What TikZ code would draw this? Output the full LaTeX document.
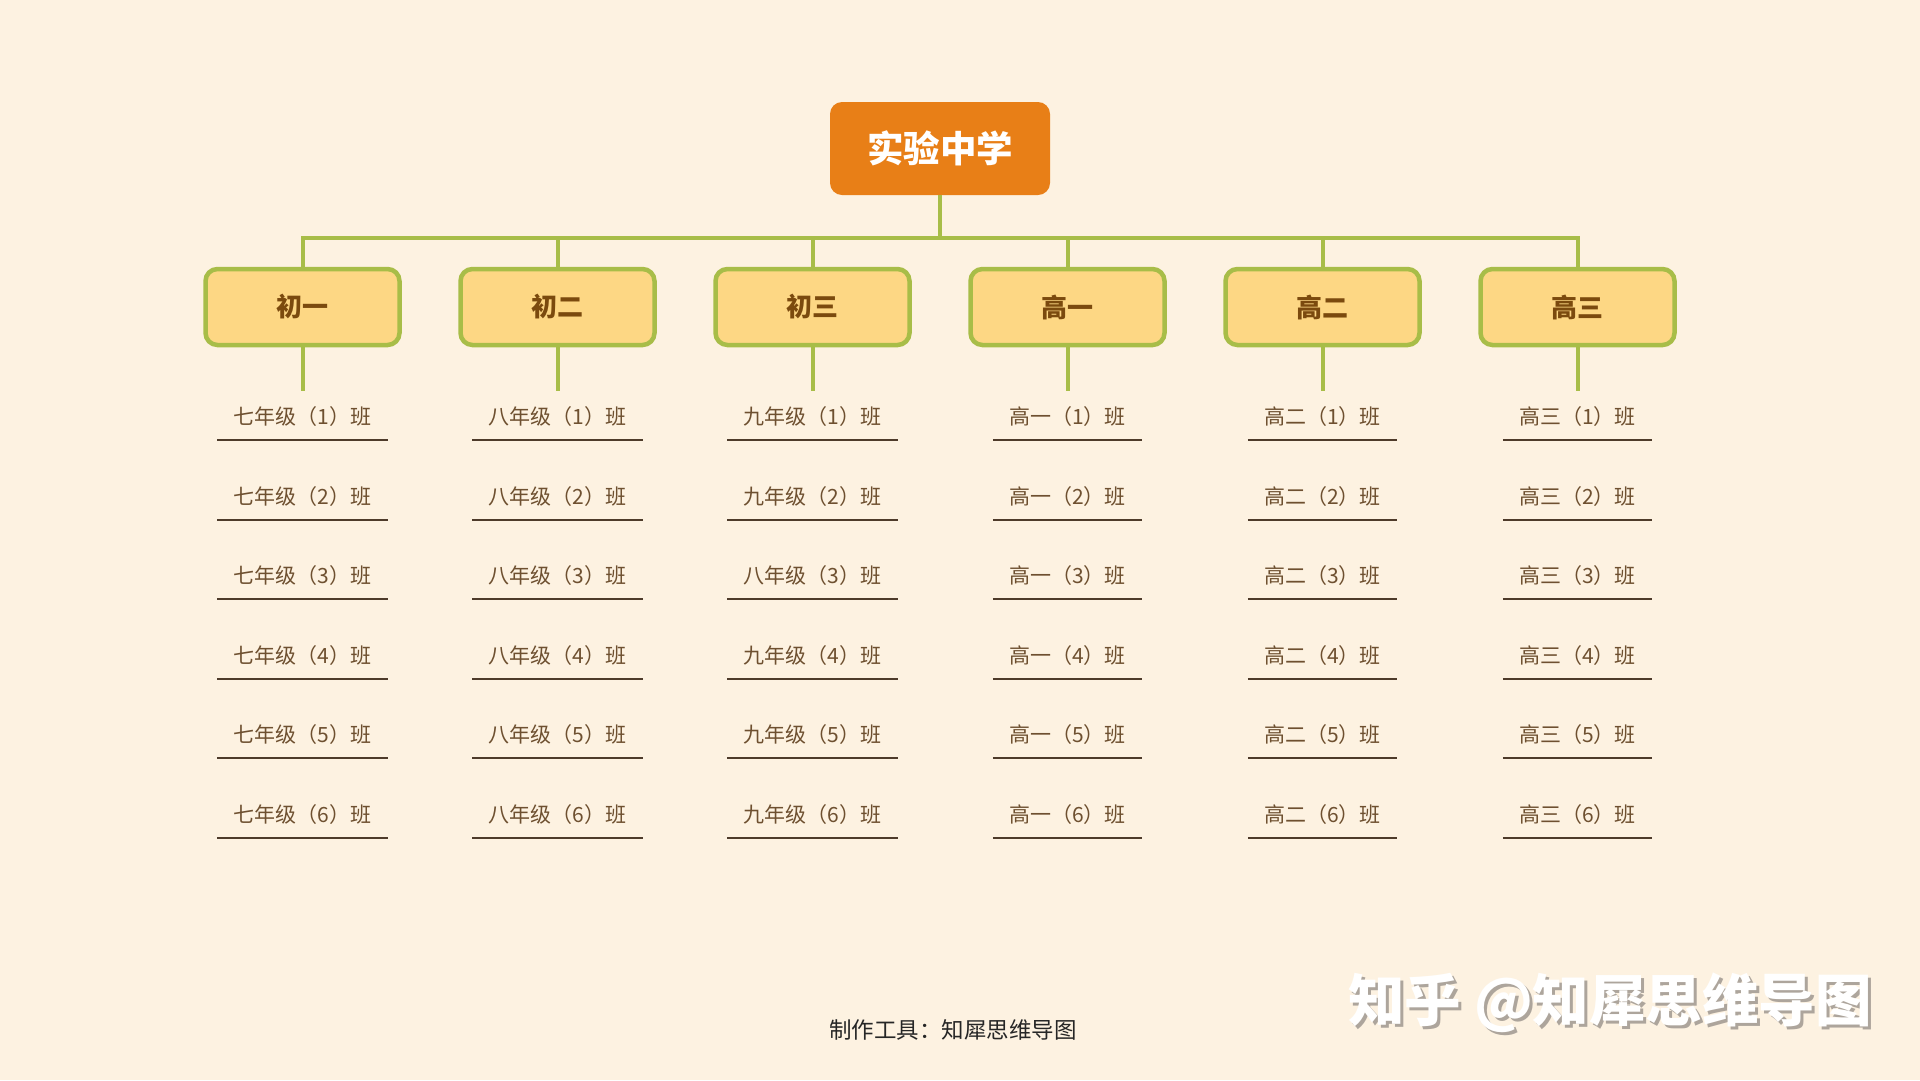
\documentclass[tikz,border=0pt]{standalone}
\usepackage{fontspec}
\setmainfont{Noto Sans CJK SC}
\usepackage{xcolor}
\usepackage{tikz}
\usetikzlibrary{positioning}

\definecolor{bgcream}{HTML}{FDF2E1}
\definecolor{rootorange}{HTML}{E87F17}
\definecolor{gradefill}{HTML}{FDD784}
\definecolor{branchgreen}{HTML}{A8BD48}
\definecolor{gradetext}{HTML}{7B4A0E}
\definecolor{classtext}{HTML}{6E5030}
\definecolor{ruleline}{HTML}{4E3B2A}
\definecolor{footertext}{HTML}{262626}
\definecolor{markshadow}{HTML}{ADA59C}

\begin{document}
\begin{tikzpicture}[x=1pt,y=-1pt,school/.style={fill=rootorange,rounded corners=12pt,minimum width=220pt,minimum height=93pt,text=white,font=\fontsize{36.5}{36.5}\selectfont\bfseries},grade/.style={draw=branchgreen,line width=4.5pt,fill=gradefill,rounded corners=12pt,minimum width=194pt,minimum height=76pt,text=gradetext,font=\fontsize{26}{26}\selectfont\bfseries},klass/.style={inner xsep=16pt,inner ysep=0pt,minimum height=46pt,text=classtext,font=\fontsize{21}{21}\selectfont},branch/.style={draw=branchgreen,line width=4pt},rule/.style={draw=ruleline,line width=2pt}]
\useasboundingbox[fill=bgcream] (0,0) rectangle (1920,1080);
\node[school] (root) at (940,148.5) {实验中学};
\coordinate (bus) at (940,238);
\draw[branch] (root.south) -- (bus);
\foreach \i/\g/\p in %
{1/初一/七年级,2/初二/八年级,3/初三/九年级,4/高一/高一,5/高二/高二,6/高三/高三} {
   \node[grade] (g\i) at (302.5+255*\i-255,307) {\raisebox{-2pt}{\g}};
   \draw[branch] (bus) -| (g\i.north);
   \foreach \j in {1,...,6} {
      \def\pre{\p}
      \ifnum\i\j=33 \def\pre{八年级}\fi
      \node[klass] (k\i-\j) at (302.5+255*\i-255,417+79.5*\j-79.5) {\pre（\j）班};
      \draw[rule] (k\i-\j.south west) -- (k\i-\j.south east);
   }
   \coordinate (drop\i) at (302.5+255*\i-255,391);
   \draw[branch] (g\i.south) -- (drop\i);
}
\node[text=footertext,font=\fontsize{22.5}{22.5}\selectfont] (credit) at (953,1030) {制作工具：知犀思维导图};
% watermark
\node[text=markshadow,font=\fontsize{56.5}{56.5}\selectfont\bfseries] (markshade) at (1613,1006) {知乎 @知犀思维导图};
\node[text=white,font=\fontsize{56.5}{56.5}\selectfont\bfseries] (mark) at (1610,1003) {知乎 @知犀思维导图};
\end{tikzpicture}
\end{document}
